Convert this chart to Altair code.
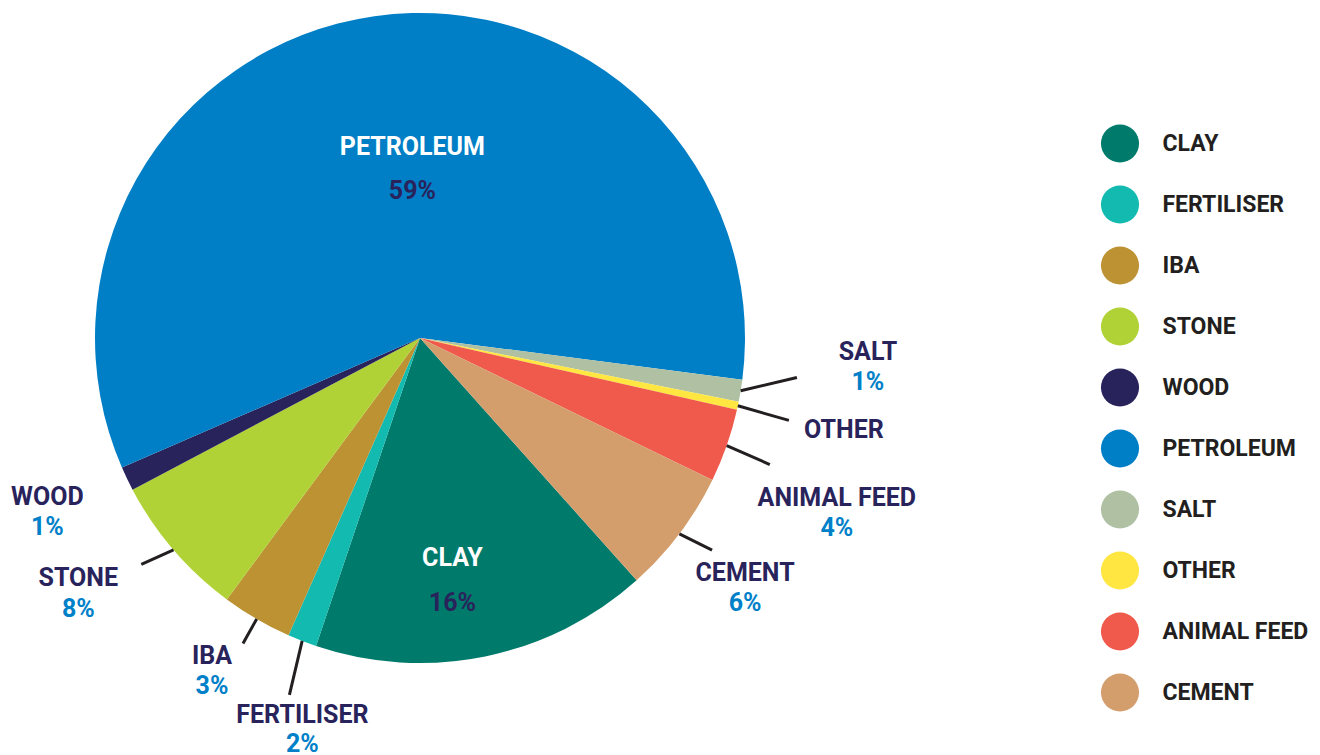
import math
import altair as alt
import pandas as pd

# ---- data ----
names = ["CLAY", "FERTILISER", "IBA", "STONE", "WOOD", "PETROLEUM",
         "SALT", "OTHER", "ANIMAL FEED", "CEMENT"]
values = [16.8, 1.45, 3.5, 7.15, 1.2, 58.6, 1.1, 0.4, 3.65, 6.2]
pct_labels = ["16%", "2%", "3%", "8%", "1%", "59%", "1%", "", "4%", "6%"]
colors = ["#007A6A", "#12BAB0", "#BC9232", "#B0D236", "#29235C", "#007FC6",
          "#AFC0A3", "#FFE640", "#F05A4C", "#D49E6C"]

# ---- layout / style ----
CX, CY, R = 412, 330, 325
START_DEG = 138.2
NAVY = "#29235C"
BLUE = "#0080C8"
# kind, anchor radius, end-angle shift (deg), label dx, label dy, gap to pct line
label_layout = {
    "CLAY":        ("in", 220, 0.0, -11.7, 4.0, 45),
    "PETROLEUM":   ("in", 200, 0.0, 20.5, 7.5, 44),
    "SALT":        ("out", 379, -3.35, 71, -25.5, 30),
    "OTHER":       ("out", 378, 0.55, 55, 9.5, 30),
    "ANIMAL FEED": ("out", 372, 0.56, 67, 33.5, 30),
    "CEMENT":      ("out", 361, -1.05, 33, 22.5, 30),
    "STONE":       ("out", 359, 1.6, -63, 13.5, 31),
    "IBA":         ("out", 353, -0.07, -31, 12.5, 30),
    "FERTILISER":  ("out", 380, -1.16, 13, 20.5, 29),
    "WOOD":        ("none", 325, 0.0, -79.7, 18.5, 30),
}

total = sum(values)
start = math.radians(START_DEG)

slices = pd.DataFrame({"name": names, "value": values, "idx": list(range(len(names)))})

label_rows, line_rows = [], []
cum = 0.0
for n, v, p in zip(names, values, pct_labels):
    a0 = start + 2 * math.pi * cum / total
    cum += v
    a1 = start + 2 * math.pi * cum / total
    mid = (a0 + a1) / 2
    kind, r_anchor, shift, ldx, ldy, gap = label_layout[n]
    if kind == "in":
        ax = CX + r_anchor * math.sin(mid)
        ay = CY - r_anchor * math.cos(mid)
    else:
        ea = mid + math.radians(shift)
        ax = CX + r_anchor * math.sin(ea)
        ay = CY - r_anchor * math.cos(ea)
        if kind == "out":
            line_rows.append({
                "x": CX + R * math.sin(mid), "y": CY - R * math.cos(mid),
                "x2": ax, "y2": ay,
            })
    label_rows.append({
        "name": n, "pct": p, "kind": kind,
        "x": ax + ldx, "y": ay + ldy, "py": ay + ldy + gap,
    })

labels = pd.DataFrame(label_rows)
lines = pd.DataFrame(line_rows)

arcs = alt.Chart(slices).mark_arc(outerRadius=R).encode(
    theta=alt.Theta("value:Q", stack=True,
                    scale=alt.Scale(domain=[0, total], range=[start, start + 2 * math.pi])),
    color=alt.Color("name:N",
                    scale=alt.Scale(domain=names, range=colors),
                    legend=alt.Legend(
                        title=None, orient="none", legendX=1092.5, legendY=116,
                        symbolType="circle", symbolSize=1452, symbolStrokeWidth=0,
                        rowPadding=22, labelOffset=23, padding=0,
                        labelFont="Roboto", labelFontWeight="bold", labelFontSize=23,
                        labelColor="#231F20", labelLimit=400)),
    order=alt.Order("idx:Q"),
    x=alt.value(CX), y=alt.value(CY),
)

rules = alt.Chart(lines).mark_rule(strokeWidth=3, color="#231F20").encode(
    x=alt.X("x:Q", scale=None, axis=None),
    y=alt.Y("y:Q", scale=None, axis=None),
    x2="x2:Q", y2="y2:Q",
)

def text_layer(df, ycol, field, color):
    return alt.Chart(df).mark_text(
        font="Roboto", fontWeight="bold", fontSize=25,
        align="center", baseline="middle", color=color,
    ).encode(
        x=alt.X("x:Q", scale=None, axis=None),
        y=alt.Y(f"{ycol}:Q", scale=None, axis=None),
        text=f"{field}:N",
    )

inside = labels[labels["kind"] == "in"]
outside = labels[labels["kind"] != "in"]

chart = alt.layer(
    arcs,
    rules,
    text_layer(inside, "y", "name", "white"),
    text_layer(inside, "py", "pct", NAVY),
    text_layer(outside, "y", "name", NAVY),
    text_layer(outside[outside["pct"] != ""], "py", "pct", BLUE),
).properties(
    width=1304, height=747,
    autosize=alt.AutoSizeParams(type="none"),
    padding=0,
).configure_view(stroke=None)

chart.save("out.html", embed_options={"renderer": "svg", "actions": False})
